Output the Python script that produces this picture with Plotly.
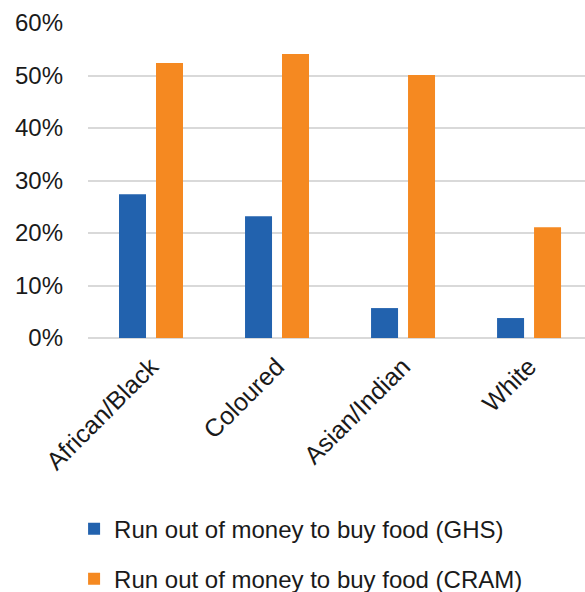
import plotly.graph_objects as go

# Share of households that ran out of money to buy food, by population group
categories = ["African/Black", "Coloured", "Asian/Indian", "White"]
ghs_values = [0.274, 0.232, 0.057, 0.038]
cram_values = [0.524, 0.541, 0.501, 0.211]
series_names = ["Run out of money to buy food (GHS)", "Run out of money to buy food (CRAM)"]
y_ticks = [0, 0.1, 0.2, 0.3, 0.4, 0.5, 0.6]
y_tick_labels = ["0%", "10%", "20%", "30%", "40%", "50%", "60%"]

BLUE = "#2262AE"
ORANGE = "#F58921"
FONT = "Liberation Sans, Arial, Helvetica, sans-serif"

fig = go.Figure()
fig.add_trace(go.Bar(x=categories, y=ghs_values, name=series_names[0],
                     marker=dict(color=BLUE, line=dict(width=0)), legendgroup="g1"))
fig.add_trace(go.Bar(x=categories, y=cram_values, name=series_names[1],
                     marker=dict(color=ORANGE, line=dict(width=0)), legendgroup="g2"))

fig.update_layout(
    width=585, height=592,
    margin=dict(l=88, r=0, t=23, b=254, autoexpand=False),
    paper_bgcolor="white", plot_bgcolor="white",
    barmode="group", bargap=0.413, bargroupgap=0.27,
    font=dict(family=FONT, color="#1a1a1a", size=22),
    xaxis=dict(
        range=[-0.5, 3.444], tickangle=-45, showgrid=False, showline=False,
        ticks="", tickfont=dict(size=25), zeroline=False, ticklabelstandoff=8,
    ),
    yaxis=dict(
        range=[0, 0.6], tickvals=y_ticks, ticktext=y_tick_labels,
        showgrid=True, gridcolor="#D9D9D9", gridwidth=2,
        zeroline=True, zerolinecolor="#D9D9D9", zerolinewidth=2,
        showline=False, ticks="", ticklabelstandoff=24, tickfont=dict(size=24),
    ),
    legend=dict(
        orientation="v", x=-0.028, xanchor="left", y=-0.535, yanchor="top",
        font=dict(size=24), tracegroupgap=16, traceorder="grouped",
        bgcolor="rgba(0,0,0,0)",
    ),
    showlegend=True,
)

fig.write_html("out.html")
